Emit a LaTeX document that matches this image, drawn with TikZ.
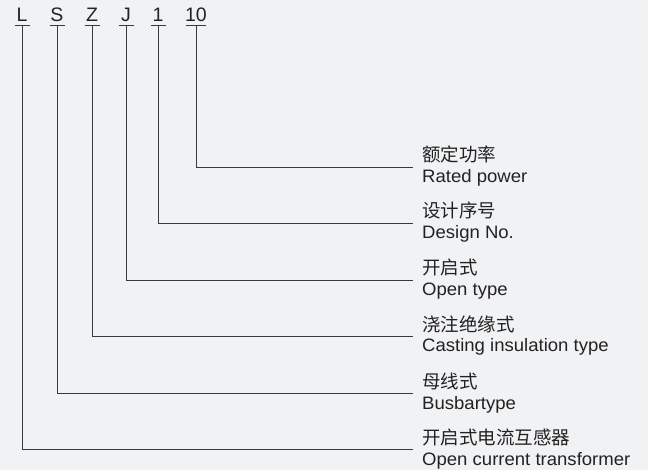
\documentclass[tikz,border=0pt]{standalone}
\usepackage{fontspec}
\setmainfont{Liberation Sans}
\newfontfamily\cjk{Noto Sans CJK SC}
\definecolor{bg}{HTML}{F1F2F4}
\definecolor{ln}{HTML}{3A3A3A}
\definecolor{tx}{HTML}{222222}
\begin{document}
\begin{tikzpicture}[x=1pt,y=-1pt,
  code/.style={inner sep=0pt,anchor=base,text=tx,font=\fontsize{19.5}{19.5}\selectfont},
  zh/.style={inner sep=0pt,anchor=base west,text=tx,font=\cjk\fontsize{18.5}{18.5}\selectfont},
  en/.style={inner sep=0pt,anchor=base west,text=tx,font=\fontsize{18}{18}\selectfont},
  rule/.style={draw=ln,line width=0.95pt}]
\fill[bg] (0,0) rectangle (648,470);
\useasboundingbox (0,0) rectangle (648,470);
% code letters
\node[code] (cL) at (22,22) {L};
\node[code] (cS) at (57,22) {S};
\node[code] (cZ) at (92,22) {Z};
\node[code] (cJ) at (126,22) {J};
\node[code] (c1) at (158,22) {1};
\node[code] (c10) at (196,22) {10};
% underline coordinates
\foreach \n/\x/\w in {L/22/7.5,S/57/7.5,Z/92/7.5,J/126/7.5,1/158/7.5,10/196/10}{
  \coordinate (u\n) at (\x,25);
  \draw[rule] (\x-\w,25) -- (\x+\w,25);
}
% end coordinates
\coordinate (e10) at (413,167);
\coordinate (e1) at (413,223);
\coordinate (eJ) at (413,280);
\coordinate (eZ) at (413,336);
\coordinate (eS) at (413,393);
\coordinate (eL) at (413,449);
\foreach \n in {L,S,Z,J,1,10}{\draw[rule] (u\n) |- (e\n);}
% descriptions
\newcommand\enw[1]{\scalebox{1.03}[1]{#1}}
\node[zh] (z10) at (422,162) {额定功率};
\node[en] (n10) at (422,183) {\enw{Rated power}};
\node[zh] (z1) at (422,218) {设计序号};
\node[en] (n1) at (422,239) {\enw{Design No.}};
\node[zh] (zJ) at (422,275) {开启式};
\node[en] (nJ) at (422,296) {\enw{Open type}};
\node[zh] (zZ) at (422,331) {浇注绝缘式};
\node[en] (nZ) at (422,352) {\enw{Casting insulation type}};
\node[zh] (zS) at (422,388) {母线式};
\node[en] (nS) at (422,409) {\enw{Busbartype}};
\node[zh] (zL) at (422,444) {开启式电流互感器};
\node[en] (nL) at (422,465) {\enw{Open current transformer}};
\end{tikzpicture}
\end{document}
